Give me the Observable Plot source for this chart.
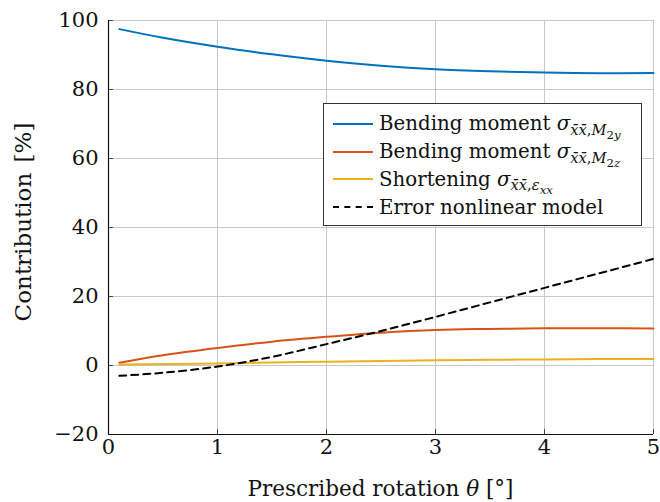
<!DOCTYPE html>
<html>
<head>
<meta charset="utf-8">
<script src="https://cdn.jsdelivr.net/npm/d3@7"></script>
<script src="https://cdn.jsdelivr.net/npm/@observablehq/plot@0.6"></script>
<style>
  html, body { margin: 0; padding: 0; background: #fff; }
  #wrap { position: relative; width: 660px; height: 502px; font-family: "DejaVu Serif", serif; color: #111; }
  #chart svg text { font-family: "DejaVu Serif", serif; }
  #legend {
    position: absolute; left: 323px; top: 103px; width: 319px; height: 123px;
    border: 1px solid #333; background: #fff; box-sizing: border-box;
    font-size: 19.8px; padding-top: 6px;
  }
  .row { display: flex; align-items: center; height: 27.8px; }
  .sw { width: 40px; margin-left: 9px; margin-right: 6px; height: 0; }
  .lab { white-space: nowrap; }
  sub { font-size: 74%; vertical-align: -0.3em; line-height: 0; }
  sub sub { font-size: 80%; }
  #xlabel { position: absolute; left: 108px; width: 545px; top: 476px; text-align: center; font-size: 21.5px; line-height: 26px; }
  #ylabel {
    position: absolute; left: 22.5px; top: 222px; white-space: nowrap;
    font-size: 23px; line-height: 26px; word-spacing: 3px;
    transform: translate(-50%, -50%) rotate(-90deg);
  }
</style>
</head>
<body>
<div id="wrap"><div id="chart"></div><div id="legend"></div><div id="xlabel"></div><div id="ylabel"></div></div>
<script>
// Prescribed rotation angle (degrees)
const theta = [0.1, 0.5, 1, 1.5, 2, 2.5, 3, 3.5, 4, 4.5, 5];
// Contribution of each stress component (%)
const bendingY = [97.5, 95.0, 92.4, 90.2, 88.3, 86.9, 85.9, 85.3, 84.9, 84.7, 84.8];
const bendingZ = [0.8, 3.0, 5.1, 6.9, 8.3, 9.5, 10.3, 10.6, 10.8, 10.8, 10.7];
const shortening = [0.3, 0.45, 0.6, 0.85, 1.1, 1.3, 1.5, 1.65, 1.75, 1.85, 1.9];
// Error of the nonlinear model (%)
const errorModel = [-3.0, -2.1, -0.3, 2.5, 6.2, 10.0, 14.1, 18.3, 22.5, 26.7, 30.9];

const xTicks = [0, 1, 2, 3, 4, 5];
const yTicks = [-20, 0, 20, 40, 60, 80, 100];

const xLabel = 'Prescribed rotation <i>θ</i> [°]';
const yLabel = "Contribution [%]";

const series = [
  {key: "My", values: bendingY, color: "#0072BD", dash: null,
   label: 'Bending moment <i>σ</i><sub><i>x̄x̄</i>,<i>M</i><sub>2<i>y</i></sub></sub>'},
  {key: "Mz", values: bendingZ, color: "#D95319", dash: null,
   label: 'Bending moment <i>σ</i><sub><i>x̄x̄</i>,<i>M</i><sub>2<i>z</i></sub></sub>'},
  {key: "eps", values: shortening, color: "#EDB120", dash: null,
   label: 'Shortening <i>σ</i><sub><i>x̄x̄</i>,<i>ε<sub>xx</sub></i></sub>'},
  {key: "err", values: errorModel, color: "#000", dash: "7,5",
   label: 'Error nonlinear model'}
];

const rows = series.map(s => theta.map((t, i) => ({theta: t, value: s.values[i], key: s.key})));

const lineMarks = series.map((s, k) => Plot.line(rows[k], {
  x: "theta", y: "value", stroke: s.color, strokeWidth: 2,
  strokeDasharray: s.dash, curve: "catmull-rom"
}));

const chart = Plot.plot({
  width: 660,
  height: 502,
  marginLeft: 108,
  marginRight: 7,
  marginTop: 20,
  marginBottom: 68,
  style: {fontFamily: "'DejaVu Serif', serif", fontSize: "21px", color: "#111", background: "#fff"},
  x: {domain: [0, 5]},
  y: {domain: [-20, 100]},
  marks: [
    Plot.gridX(xTicks, {stroke: "#c8c8c8", strokeOpacity: 1, strokeWidth: 1}),
    Plot.gridY(yTicks, {stroke: "#c8c8c8", strokeOpacity: 1, strokeWidth: 1}),
    Plot.axisX(xTicks, {tickSize: -5, stroke: "#444", text: null, label: null}),
    Plot.axisY(yTicks, {tickSize: -5, stroke: "#444", text: null, label: null}),
    Plot.axisX(xTicks, {tickSize: 0, tickPadding: 5, tickFormat: d => String(d), fontSize: 21, label: null}),
    Plot.axisY(yTicks, {tickSize: 0, tickPadding: 10, tickFormat: d => d < 0 ? "\u2212" + Math.abs(d) : String(d), fontSize: 21, label: null}),
    ...lineMarks,
    Plot.ruleX([0], {stroke: "#111", strokeWidth: 1.2}),
    Plot.ruleY([-20], {stroke: "#111", strokeWidth: 1.2})
  ]
});
document.getElementById("chart").append(chart);
document.getElementById("xlabel").innerHTML = xLabel;
document.getElementById("ylabel").textContent = yLabel;

const legend = document.getElementById("legend");
for (const s of series) {
  const row = document.createElement("div");
  row.className = "row";
  const sw = document.createElement("div");
  sw.className = "sw";
  sw.style.borderTop = s.dash ? `2.2px dashed ${s.color}` : `2px solid ${s.color}`;
  const lab = document.createElement("span");
  lab.className = "lab";
  lab.innerHTML = s.label;
  row.append(sw, lab);
  legend.append(row);
}
</script>
</body>
</html>
